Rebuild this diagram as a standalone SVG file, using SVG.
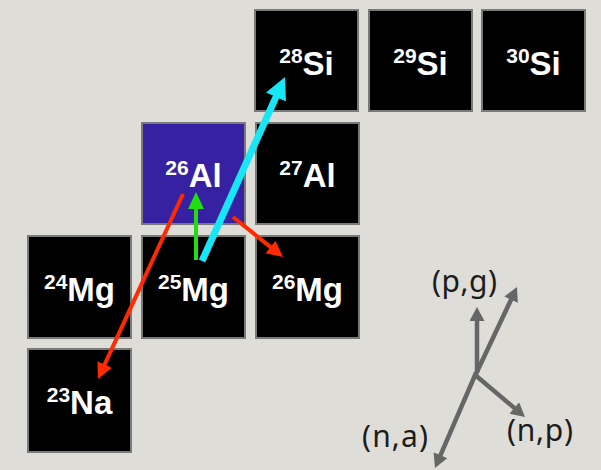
<svg xmlns="http://www.w3.org/2000/svg" width="601" height="470" viewBox="0 0 601 470">
<style>
.box{fill:#000;stroke:#7a7a7a;stroke-width:2}
.al{fill:#3621a3}
.lbl{font-family:"Liberation Sans",Arial,sans-serif;font-weight:bold;fill:#fff;font-size:33px}
.sup{font-size:21px}
.leg{font-family:"Noto Sans","Open Sans","Liberation Sans",sans-serif;fill:#1c1c1c;font-size:30px}
.cy{stroke:#16e6f5;stroke-width:7;fill:none}
.gr{stroke:#22dd11;stroke-width:4;fill:none}
.rd{stroke:#ff2a00;stroke-width:4;fill:none}
.gy{stroke:#666;stroke-width:4.5;fill:none}
</style>
<defs>
<marker id="mc" markerUnits="userSpaceOnUse" markerWidth="24" markerHeight="24" refX="4" refY="11" orient="auto"><path d="M0,0 L22,11 L0,22 z" fill="#16e6f5"/></marker>
<marker id="mg" markerUnits="userSpaceOnUse" markerWidth="20" markerHeight="20" refX="3" refY="8" orient="auto"><path d="M0,0 L17,8 L0,16 z" fill="#22dd11"/></marker>
<marker id="mr" markerUnits="userSpaceOnUse" markerWidth="20" markerHeight="20" refX="3" refY="8" orient="auto"><path d="M0,0 L16,8 L0,16 z" fill="#ff2a00"/></marker>
<marker id="my" markerUnits="userSpaceOnUse" markerWidth="18" markerHeight="18" refX="3" refY="7.5" orient="auto"><path d="M0,0 L14,7.5 L0,15 z" fill="#666"/></marker>
</defs>
<rect width="601" height="470" fill="#dfddd8"/>
<g id="si28"><rect class="box" x="255" y="10" width="103" height="101"/><text class="lbl" x="306.5" y="75" text-anchor="middle"><tspan class="sup" dy="-12">28</tspan><tspan dy="12">Si</tspan></text></g>
<g id="si29"><rect class="box" x="369" y="10" width="103" height="101"/><text class="lbl" x="420.5" y="75" text-anchor="middle"><tspan class="sup" dy="-12">29</tspan><tspan dy="12">Si</tspan></text></g>
<g id="si30"><rect class="box" x="482" y="10" width="103" height="101"/><text class="lbl" x="533.5" y="75" text-anchor="middle"><tspan class="sup" dy="-12">30</tspan><tspan dy="12">Si</tspan></text></g>
<g id="al26"><rect class="box al" x="142" y="123" width="103" height="101"/><text class="lbl" x="193.5" y="187" text-anchor="middle"><tspan class="sup" dy="-12">26</tspan><tspan dy="12">Al</tspan></text></g>
<g id="al27"><rect class="box" x="256" y="123" width="103" height="101"/><text class="lbl" x="307.5" y="187" text-anchor="middle"><tspan class="sup" dy="-12">27</tspan><tspan dy="12">Al</tspan></text></g>
<g id="mg24"><rect class="box" x="28" y="236" width="103" height="102"/><text class="lbl" x="79.5" y="301" text-anchor="middle"><tspan class="sup" dy="-12">24</tspan><tspan dy="12">Mg</tspan></text></g>
<g id="mg25"><rect class="box" x="142" y="236" width="103" height="102"/><text class="lbl" x="193.5" y="301" text-anchor="middle"><tspan class="sup" dy="-12">25</tspan><tspan dy="12">Mg</tspan></text></g>
<g id="mg26"><rect class="box" x="256" y="236" width="103" height="102"/><text class="lbl" x="307.5" y="301" text-anchor="middle"><tspan class="sup" dy="-12">26</tspan><tspan dy="12">Mg</tspan></text></g>
<g id="na23"><rect class="box" x="28" y="349" width="103" height="103"/><text class="lbl" x="79.5" y="414" text-anchor="middle"><tspan class="sup" dy="-12">23</tspan><tspan dy="12">Na</tspan></text></g>
<g id="connectors">
<line class="gr" x1="196" y1="260" x2="196" y2="206" marker-end="url(#mg)"/>
<line class="cy" x1="202" y1="261" x2="277.6" y2="93.4" marker-end="url(#mc)"/>
<line class="rd" x1="183" y1="194" x2="103.4" y2="367.2" marker-end="url(#mr)"/>
<line class="rd" x1="233" y1="217" x2="272.8" y2="248.9" marker-end="url(#mr)"/>
<line class="gy" x1="477" y1="373" x2="477" y2="318" marker-end="url(#my)"/>
<line class="gy" x1="475" y1="376" x2="512.3" y2="297" marker-end="url(#my)"/>
<line class="gy" x1="476" y1="373" x2="439.3" y2="457.9" marker-end="url(#my)"/>
<line class="gy" x1="474" y1="374" x2="516.6" y2="409.9" marker-end="url(#my)"/>
</g>
<g id="legend">
<text class="leg" x="432" y="292" textLength="65">(p,g)</text>
<text class="leg" x="507" y="441" textLength="66">(n,p)</text>
<text class="leg" x="362" y="447" textLength="66">(n,a)</text>
</g>
</svg>
